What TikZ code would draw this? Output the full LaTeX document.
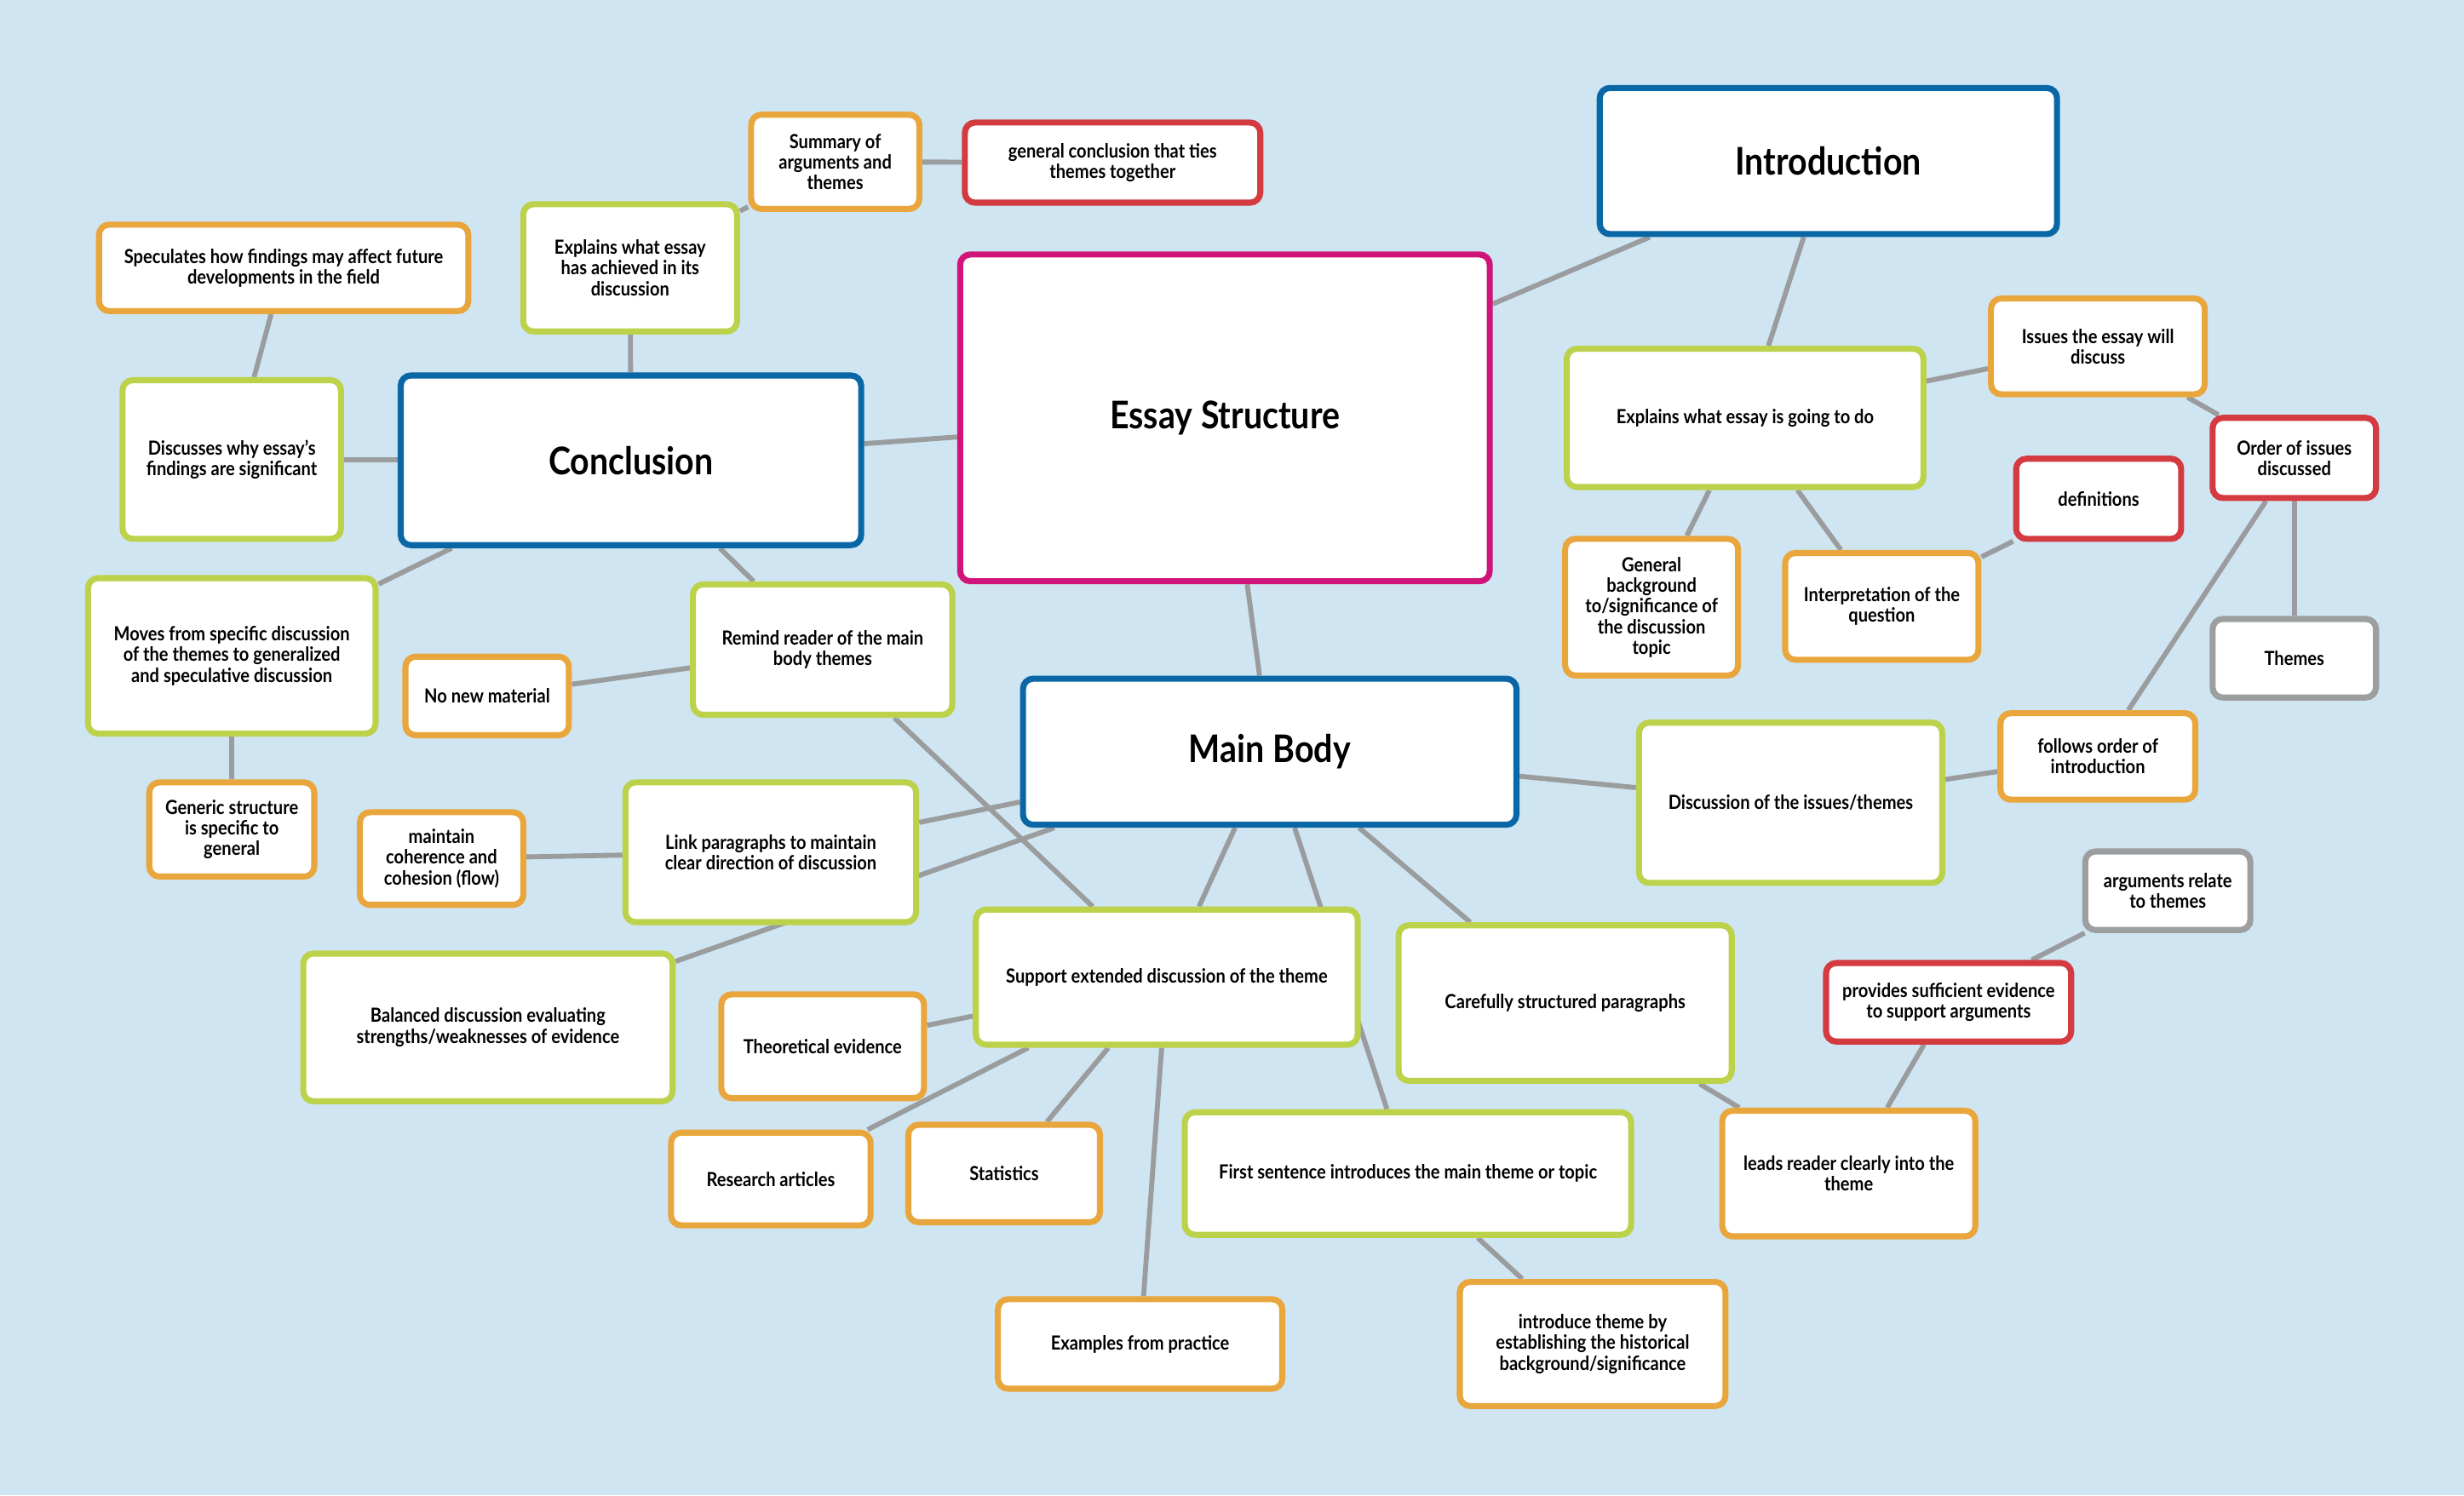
\documentclass[tikz,border=0pt]{standalone}
\usepackage{fontspec}
\setmainfont{Lato}[FakeStretch=0.88]
\usetikzlibrary{backgrounds}
\definecolor{paper}{HTML}{CFE5F1}
\definecolor{mapblue}{HTML}{0A67A6}
\definecolor{mappink}{HTML}{D0147A}
\definecolor{mapgreen}{HTML}{BCD24B}
\definecolor{maporange}{HTML}{E9A63D}
\definecolor{mapred}{HTML}{D33B40}
\definecolor{mapgray}{HTML}{9C9EA0}
\definecolor{linegray}{HTML}{9A9C9E}
\tikzset{
  box/.style={draw, rounded corners=1.3mm, line width=2.2pt, fill=white, align=center, inner sep=0.8mm, font=\bfseries\fontsize{7.05}{7.5}\selectfont},
  greenbox/.style={box, draw=mapgreen},
  orangebox/.style={box, draw=maporange},
  redbox/.style={box, draw=mapred},
  graybox/.style={box, draw=mapgray},
  bluebox/.style={box, draw=mapblue, font=\bfseries\fontsize{13.8}{15}\selectfont},
  pinkbox/.style={bluebox, draw=mappink},
  link/.style={draw=linegray, line width=1.8pt}
}
\begin{document}
\begin{tikzpicture}[x=0.2mm, y=-0.2mm]
  \useasboundingbox (0,0) rectangle (1568,952);
  % main topics
  \node[pinkbox, minimum width=67.4mm, minimum height=41.6mm] (essay) at (779.5,266) {Essay Structure};
  \node[bluebox, minimum width=58.2mm, minimum height=18.6mm] (intro) at (1163.5,102.5) {Introduction};
  \node[bluebox, minimum width=58.6mm, minimum height=21.6mm] (concl) at (401.5,293) {Conclusion};
  \node[bluebox, minimum width=62.8mm, minimum height=18.6mm] (mainbody) at (808,478.5) {Main Body};
  % conclusion
  \node[orangebox, minimum width=21.4mm, minimum height=12mm] (summary) at (531.5,103) {Summary of\\arguments and\\themes};
  \node[redbox, minimum width=37.6mm, minimum height=10.2mm] (tiesthemes) at (708,103.5) {general conclusion that ties\\themes together};
  \node[greenbox, minimum width=27.2mm, minimum height=16.2mm] (achieved) at (401,170.5) {Explains what essay\\has achieved in its\\discussion};
  \node[orangebox, minimum width=47mm, minimum height=11mm] (speculates) at (180.5,170.5) {Speculates how findings may affect future\\developments in the field};
  \node[greenbox, minimum width=27.8mm, minimum height=20.2mm] (significant) at (147.5,292.5) {Discusses why essay’s\\findings are significant};
  \node[greenbox, minimum width=36.6mm, minimum height=19.8mm] (moves) at (147.5,417.5) {Moves from specific discussion\\of the themes to generalized\\and speculative discussion};
  \node[orangebox, minimum width=21mm, minimum height=12mm] (generic) at (147.5,528) {Generic structure\\is specific to\\general};
  \node[greenbox, minimum width=33mm, minimum height=16.6mm] (remind) at (523.5,413.5) {Remind reader of the main\\body themes};
  \node[orangebox, minimum width=20.8mm, minimum height=10mm] (nonew) at (310,443) {No new material};
  % main body
  \node[greenbox, minimum width=37mm, minimum height=17.8mm] (linkpar) at (490.5,542.5) {Link paragraphs to maintain\\clear direction of discussion};
  \node[orangebox, minimum width=20.8mm, minimum height=11.8mm] (coherence) at (281,546.5) {maintain\\coherence and\\cohesion (flow)};
  \node[greenbox, minimum width=47mm, minimum height=18.8mm] (balanced) at (310.5,654) {Balanced discussion evaluating\\strengths/weaknesses of evidence};
  \node[greenbox, minimum width=48.6mm, minimum height=17.2mm] (support) at (742.5,622) {Support extended discussion of the theme};
  \node[orangebox, minimum width=25.8mm, minimum height=13.2mm] (theoretical) at (523.5,666) {Theoretical evidence};
  \node[orangebox, minimum width=25.4mm, minimum height=11.8mm] (research) at (490.5,750.5) {Research articles};
  \node[orangebox, minimum width=24.4mm, minimum height=12.4mm] (statistics) at (639,747) {Statistics};
  \node[orangebox, minimum width=36.2mm, minimum height=11.4mm] (examples) at (725.5,855.5) {Examples from practice};
  \node[greenbox, minimum width=56.8mm, minimum height=15.6mm] (firstsent) at (896,747) {First sentence introduces the main theme or topic};
  \node[orangebox, minimum width=33.8mm, minimum height=15.8mm] (historical) at (1013.5,855.5) {introduce theme by\\establishing the historical\\background/significance};
  \node[greenbox, minimum width=42.4mm, minimum height=19.8mm] (careful) at (996,638.5) {Carefully structured paragraphs};
  \node[orangebox, minimum width=32.2mm, minimum height=16mm] (leads) at (1176.5,747) {leads reader clearly into the\\theme};
  \node[redbox, minimum width=31.2mm, minimum height=10mm] (evidence) at (1240,638) {provides sufficient evidence\\to support arguments};
  \node[graybox, minimum width=21mm, minimum height=10mm] (relate) at (1379.5,567) {arguments relate\\to themes};
  \node[greenbox, minimum width=38.6mm, minimum height=20.4mm] (issues) at (1139.5,511) {Discussion of the issues/themes};
  \node[orangebox, minimum width=24.8mm, minimum height=11mm] (follows) at (1335,481.5) {follows order of\\introduction};
  % introduction
  \node[greenbox, minimum width=45.4mm, minimum height=17.6mm] (goingto) at (1110.5,266) {Explains what essay is going to do};
  \node[orangebox, minimum width=27.2mm, minimum height=12.2mm] (willdiscuss) at (1335,220.5) {Issues the essay will\\discuss};
  \node[redbox, minimum width=20.8mm, minimum height=10.2mm] (order) at (1460,291.5) {Order of issues\\discussed};
  \node[redbox, minimum width=21mm, minimum height=10.2mm] (definitions) at (1335.5,317.5) {definitions};
  \node[graybox, minimum width=20.8mm, minimum height=10mm] (themes) at (1460,419) {Themes};
  \node[orangebox, minimum width=22mm, minimum height=17.4mm] (background) at (1051,386.5) {General\\background\\to/significance of\\the discussion\\topic};
  \node[orangebox, minimum width=24.6mm, minimum height=13.6mm] (interpret) at (1197.5,386) {Interpretation of the\\question};
  \begin{scope}[on background layer]
    \fill[paper] (0,0) rectangle (1568,952);
    \draw[link] (essay) -- (intro);
    \draw[link] (essay) -- (concl);
    \draw[link] (essay) -- (mainbody);
    \draw[link] (intro) -- (goingto);
    \draw[link] (goingto) -- (willdiscuss);
    \draw[link] (willdiscuss) -- (order);
    \draw[link] (order) -- (themes);
    \draw[link] (order) -- (follows);
    \draw[link] (goingto) -- (background);
    \draw[link] (goingto) -- (interpret);
    \draw[link] (interpret) -- (definitions);
    \draw[link] (mainbody) -- (issues);
    \draw[link] (issues) -- (follows);
    \draw[link] (mainbody) -- (support);
    \draw[link] (mainbody) -- (firstsent);
    \draw[link] (mainbody) -- (careful);
    \draw[link] (mainbody) -- (linkpar);
    \draw[link] (mainbody) -- (balanced);
    \draw[link] (careful) -- (leads);
    \draw[link] (leads) -- (evidence);
    \draw[link] (evidence) -- (relate);
    \draw[link] (firstsent) -- (historical);
    \draw[link] (support) -- (theoretical);
    \draw[link] (support) -- (research);
    \draw[link] (support) -- (statistics);
    \draw[link] (support) -- (examples);
    \draw[link] (linkpar) -- (coherence);
    \draw[link] (concl) -- (remind);
    \draw[link] (remind) -- (support);
    \draw[link] (remind) -- (nonew);
    \draw[link] (concl) -- (achieved);
    \draw[link] (achieved) -- (summary);
    \draw[link] (summary) -- (tiesthemes);
    \draw[link] (concl) -- (significant);
    \draw[link] (significant) -- (speculates);
    \draw[link] (concl) -- (moves);
    \draw[link] (moves) -- (generic);
  \end{scope}
\end{tikzpicture}
\end{document}
